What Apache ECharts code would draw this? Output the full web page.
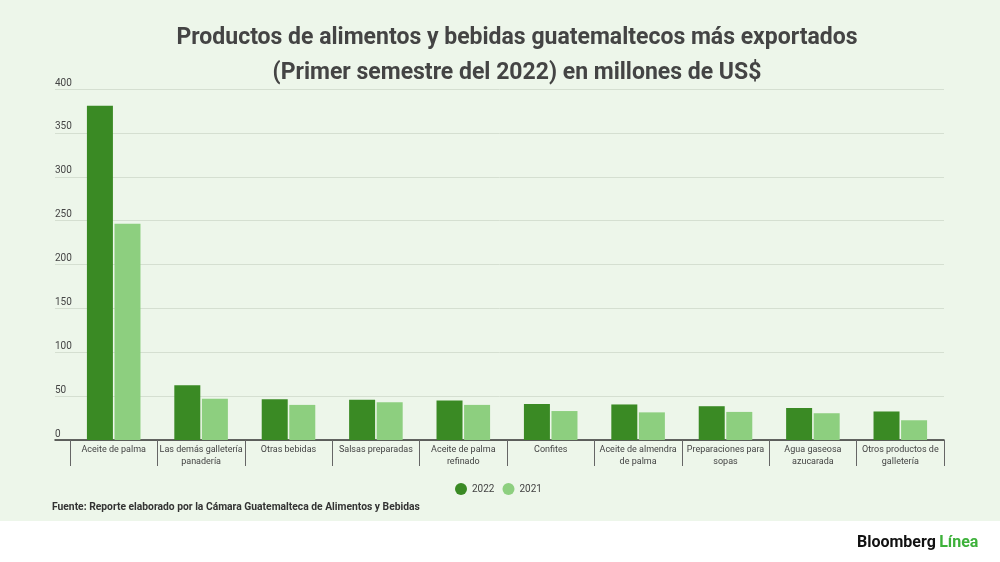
<!DOCTYPE html>
<html><head><meta charset="utf-8">
<script src="https://cdn.jsdelivr.net/npm/echarts@6/dist/echarts.min.js"></script>
<style>html,body{margin:0;padding:0;background:#fff;}#c{width:1000px;height:562px;}</style>
</head><body><div id="c"></div>
<script>
const categories = ['Aceite de palma','Las demás galletería panadería','Otras bebidas','Salsas preparadas','Aceite de palma refinado','Confites','Aceite de almendra de palma','Preparaciones para sopas','Agua gaseosa azucarada','Otros productos de galletería'];
const values2022 = [381, 62.5, 46.5, 46, 45, 41, 40.5, 38.5, 36.5, 32.5];
const values2021 = [246.5, 47, 40, 43, 40, 33, 31.5, 32, 30.5, 22.5];
const yTicks = [0, 50, 100, 150, 200, 250, 300, 350, 400];

const chart = echarts.init(document.getElementById('c'));
const FONT = 'Roboto';
const gridTop = 89, gridBottom = 122;
chart.setOption({
  backgroundColor: '#ffffff',
  textStyle: {fontFamily: FONT},
  title: {
    text: 'Productos de alimentos y bebidas guatemaltecos más exportados\n(Primer semestre del 2022) en millones de US$',
    left: 512, top: 16, textAlign: 'center',
    textStyle: {fontFamily: FONT, fontSize: 23, fontWeight: 'bold', color: '#444444', lineHeight: 35}
  },
  legend: {
    data: ['2022', '2021'], bottom: 62, left: 450,
    icon: 'circle', itemWidth: 12, itemHeight: 12, itemGap: 8,
    textStyle: {fontFamily: FONT, fontSize: 10, color: '#444'}
  },
  grid: [
    {left: 70, right: 56, top: gridTop, bottom: gridBottom},
    {left: 55, right: 56, top: gridTop, bottom: gridBottom}
  ],
  xAxis: [
    {type: 'category', gridIndex: 0, data: categories,
     axisLine: {show: false},
     axisTick: {show: true, length: 26, lineStyle: {color: '#666', width: 1}},
     axisLabel: {interval: 0, margin: 4, fontFamily: FONT, fontSize: 9, color: '#444', lineHeight: 11.5,
       formatter: function (v) {
         const words = v.split(' '); let lines = [], cur = '';
         words.forEach(w => { const t = cur ? cur + ' ' + w : w; if (t.length > 20 && cur) { lines.push(cur); cur = w; } else cur = t; });
         lines.push(cur); return lines.join('\n');
       }}
    },
    {type: 'category', gridIndex: 1, data: ['a'], axisLine: {show: true, lineStyle: {color: '#333', width: 1.5}},
     axisTick: {show: false}, axisLabel: {show: false}}
  ],
  yAxis: [
    {type: 'value', gridIndex: 0, min: 0, max: 400, interval: 50, show: false, splitLine: {show: false}},
    {type: 'value', gridIndex: 1, min: 0, max: 400, interval: 50,
     axisLine: {show: false}, axisTick: {show: false},
     splitLine: {lineStyle: {color: '#d5dfd1', width: 1}},
     axisLabel: {inside: true, margin: 0, verticalAlign: 'bottom', padding: [0, 0, 1, 0],
       fontFamily: FONT, fontSize: 10, color: '#444',
       formatter: v => yTicks.includes(v) ? String(v) : ''}}
  ],
  series: [
    {name: '2022', type: 'bar', xAxisIndex: 0, yAxisIndex: 0, data: values2022, barWidth: 26, barGap: '6%',
     itemStyle: {color: '#3a8a24'}, z: 3},
    {name: '2021', type: 'bar', xAxisIndex: 0, yAxisIndex: 0, data: values2021, barWidth: 26, barGap: '6%',
     itemStyle: {color: '#8dcf7f'}, z: 3}
  ],
  graphic: [
    {type: 'rect', left: 0, top: 0, shape: {width: 1000, height: 521}, style: {fill: '#edf6ea'}, z: -10, silent: true},
    {type: 'text', left: 52, top: 502, z: 5,
     style: {text: 'Fuente: Reporte elaborado por la Cámara Guatemalteca de Alimentos y Bebidas',
       font: 'bold 10.3px Roboto', fill: '#333'}},
    {type: 'text', left: 857, top: 535, z: 5,
     style: {text: '{a|Bloomberg} {b|Línea}',
       rich: {a: {fontFamily: FONT, fontWeight: 'bold', fontSize: 16, fill: '#111', color: '#111'},
              b: {fontFamily: FONT, fontWeight: 'bold', fontSize: 16, fill: '#3db13a', color: '#3db13a'}}}}
  ]
});
</script></body></html>
